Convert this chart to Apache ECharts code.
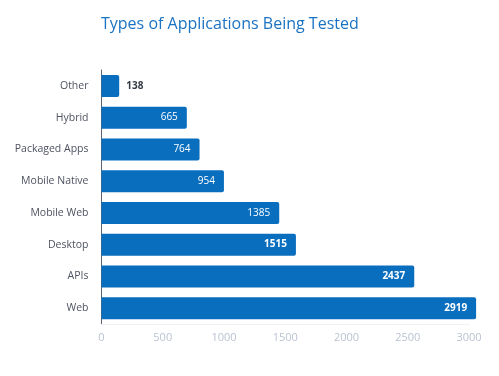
<!DOCTYPE html>
<html>
<head>
<meta charset="utf-8">
<script src="https://cdn.jsdelivr.net/npm/echarts@6/dist/echarts.min.js"></script>
<style>
  html, body { margin: 0; padding: 0; background: #fff; }
  #chart { width: 499px; height: 376px; }
</style>
</head>
<body>
<div id="chart"></div>
<script>
    // data, bottom to top
    var categories = ['Web', 'APIs', 'Desktop', 'Mobile Web', 'Mobile Native', 'Packaged Apps', 'Hybrid', 'Other'];
    var counts = [2919, 2437, 1515, 1385, 954, 764, 665, 138];
    var boldLabels = ['Web', 'APIs', 'Desktop', 'Other'];
    var tickValues = [0, 500, 1000, 1500, 2000, 2500, 3000];

    var myChart = echarts.init(document.getElementById('chart'));

    var barData = counts.map(function (v, i) {
        var name = categories[i];
        var item = { value: v, label: { fontWeight: boldLabels.indexOf(name) >= 0 ? 'bold' : 'normal' } };
        if (v < 300) {
            item.label.position = 'right';
            item.label.color = '#333a45';
            item.label.offset = [2, 0];
        }
        return item;
    });

    var option = {
        backgroundColor: '#ffffff',
        animation: false,
        title: {
            text: 'Types of Applications Being Tested',
            left: 96,
            top: 11,
            textStyle: {
                color: '#1a72c2',
                fontFamily: 'Open Sans',
                fontSize: 16,
                fontWeight: 'normal'
            }
        },
        grid: [
            // axis grid (printed ticks)
            { left: 101.5, right: 30, top: 70, bottom: 52, containLabel: false },
            // bar grid: the reference draws bars a bit wider than its ticks
            { left: 101.5, right: 12.5, top: 70, bottom: 52, containLabel: false }
        ],
        xAxis: [
            {
                type: 'value',
                gridIndex: 0,
                min: tickValues[0],
                max: tickValues[tickValues.length - 1],
                interval: 500,
                axisLine: { show: true, lineStyle: { color: '#eef1f5' } },
                axisTick: { show: false },
                splitLine: { show: false },
                axisLabel: {
                    color: '#b9c3d1',
                    fontFamily: 'Open Sans',
                    fontSize: 11,
                    margin: 8,
                    formatter: function (v) { return String(v); }
                }
            },
            {
                type: 'value',
                gridIndex: 1,
                min: 0,
                max: 3000,
                show: false
            }
        ],
        yAxis: [
            {
                type: 'category',
                gridIndex: 0,
                data: categories,
                axisLine: { show: true, lineStyle: { color: '#5b6270', width: 1 } },
                axisTick: { show: false },
                splitLine: { show: false },
                axisLabel: {
                    color: '#4d5360',
                    fontFamily: 'Open Sans',
                    fontSize: 10.5,
                    margin: 13
                }
            },
            {
                type: 'category',
                gridIndex: 1,
                data: categories,
                show: false
            }
        ],
        series: [
            {
                type: 'bar',
                xAxisIndex: 1,
                yAxisIndex: 1,
                data: barData,
                barWidth: 22,
                itemStyle: {
                    color: '#0a6ebf',
                    borderRadius: [0, 2, 2, 0]
                },
                label: {
                    show: true,
                    position: 'insideRight',
                    offset: [-4, 0],
                    color: '#ffffff',
                    fontFamily: 'Open Sans',
                    fontSize: 10
                }
            }
        ]
    };
    myChart.setOption(option);
</script>
</body>
</html>
